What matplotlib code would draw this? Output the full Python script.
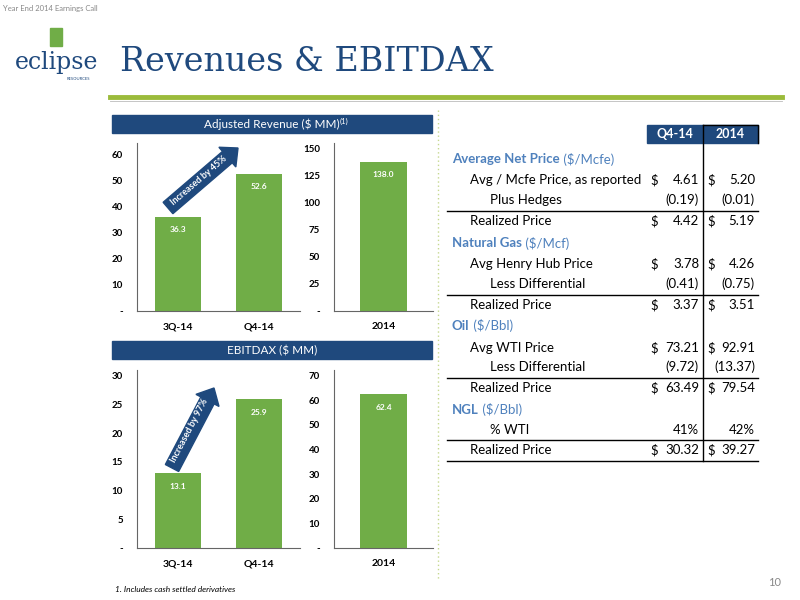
import math
import matplotlib
matplotlib.use("Agg")
import matplotlib.pyplot as plt
from matplotlib.patches import Rectangle, FancyArrow

plt.rcParams['font.family'] = ['Lato', 'DejaVu Sans']
plt.rcParams['text.parse_math'] = False

NAVY = "#1f497d"
GREEN = "#70ad47"
LINEGREEN = "#9bbb3b"
BLUE_TXT = "#4f81bd"

# chart data
rev_q_labels = ["3Q-14", "Q4-14"]
rev_q_values = [36.3, 52.6]
rev_y_label = ["2014"]
rev_y_values = [138.0]
ebx_q_labels = ["3Q-14", "Q4-14"]
ebx_q_values = [13.1, 25.9]
ebx_y_label = ["2014"]
ebx_y_values = [62.4]

# table data
tbl_labels = ["Average Net Price", "Avg / Mcfe Price, as reported", "Plus Hedges", "Realized Price",
              "Natural Gas", "Avg Henry Hub Price", "Less Differential", "Realized Price",
              "Oil", "Avg WTI Price", "Less Differential", "Realized Price",
              "NGL", "% WTI", "Realized Price"]
tbl_units = ["($/Mcfe)", "", "", "", "($/Mcf)", "", "", "", "($/Bbl)", "", "", "", "($/Bbl)", "", ""]
tbl_kind = ["h", "r", "s", "t", "h", "r", "s", "t", "h", "r", "s", "t", "h", "s", "t"]
tbl_q4 = ["", "4.61", "(0.19)", "4.42", "", "3.78", "(0.41)", "3.37", "", "73.21", "(9.72)", "63.49", "", "41%", "30.32"]
tbl_y = ["", "5.20", "(0.01)", "5.19", "", "4.26", "(0.75)", "3.51", "", "92.91", "(13.37)", "79.54", "", "42%", "39.27"]
tbl_ypos = [159, 180, 200, 221, 243, 264, 284, 305, 326, 348, 367, 388, 410, 430, 450]

W, H = 800, 600
fig = plt.figure(figsize=(8, 6), dpi=100)
bg = fig.add_axes([0, 0, 1, 1])
bg.set_xlim(0, W)
bg.set_ylim(H, 0)
bg.axis("off")


def px_axes(x0, y0, x1, y1):
    return fig.add_axes([x0 / W, 1 - y1 / H, (x1 - x0) / W, (y1 - y0) / H])


# header
bg.text(3, 8, "Year End 2014 Earnings Call", fontsize=5.5, color="#888888", va="center")
bg.add_patch(Rectangle((50, 28), 12, 18, color=GREEN))
bg.text(57, 62, "eclipse", fontsize=17, family="DejaVu Serif", color=NAVY, ha="center", va="center")
bg.text(78, 79, "RESOURCES", fontsize=3, color=NAVY, ha="center", va="center")
bg.text(120, 62, "Revenues & EBITDAX", fontsize=24, family="DejaVu Serif", color=NAVY, va="center")
bg.plot([110, 782], [97, 97], color=LINEGREEN, lw=3.5)
bg.plot([110, 782], [101, 101], color="#bbbbbb", lw=0.6)
bg.plot([438, 438], [110, 580], color="#c6d88f", lw=1, ls=(0, (1, 2)))

# panel title bars
for y0, txt, sup in [(115, "Adjusted Revenue ($ MM)", "(1)"), (341, "EBITDAX ($ MM)", "")]:
    bg.add_patch(Rectangle((112, y0), 320, 18, color=NAVY))
    t = bg.text(272, y0 + 9.5, txt, color="white", fontsize=8.5, ha="center", va="center")
    if sup:
        bg.annotate(sup, xycoords=t, xy=(1, 0.8), va="center", color="white", fontsize=5.5)


def bar_axes(ax, labels, values, ymax, ticks, fmt="{:.1f}"):
    ax.bar(labels, values, width=0.56, color=GREEN)
    ax.set_ylim(0, ymax)
    ax.set_yticks(ticks)
    ax.set_yticklabels(["-"] + [str(t) for t in ticks[1:]], fontsize=7, fontweight="bold")
    ax.tick_params(axis="x", labelsize=7.5, length=0, pad=8)
    for lab in ax.get_xticklabels():
        lab.set_fontweight("bold")
    ax.tick_params(axis="y", length=0, pad=10)
    for s in ["top", "right"]:
        ax.spines[s].set_visible(False)
    ax.spines["left"].set_color("#666666")
    ax.spines["bottom"].set_color("#666666")
    ax.patch.set_alpha(0)
    for i, v in enumerate(values):
        ax.text(i, v - ymax * 0.075, fmt.format(v), color="white", fontsize=6,
                fontweight="bold", ha="center", va="center")


a1 = px_axes(137, 143, 300, 311)
bar_axes(a1, rev_q_labels, rev_q_values, 64.6, [0, 10, 20, 30, 40, 50, 60])
a1.set_xlim(-0.5, 1.5)
a2 = px_axes(334, 143, 433, 311)
bar_axes(a2, rev_y_label, rev_y_values, 155.5, [0, 25, 50, 75, 100, 125, 150])
a2.set_xlim(-0.6, 0.6)
a3 = px_axes(137, 370, 300, 548)
bar_axes(a3, ebx_q_labels, ebx_q_values, 31, [0, 5, 10, 15, 20, 25, 30])
a3.set_xlim(-0.5, 1.5)
a4 = px_axes(334, 370, 433, 548)
bar_axes(a4, ebx_y_label, ebx_y_values, 72.3, [0, 10, 20, 30, 40, 50, 60, 70])
a4.set_xlim(-0.6, 0.6)

# growth arrows
for (x0, y0, x1, y1, txt) in [(168, 208, 238, 148, "Increased by 45%"), (172, 468, 214, 388, "Increased by 97%")]:
    bg.add_patch(FancyArrow(x0, y0, x1 - x0, y1 - y0, width=15, head_width=26, head_length=14,
                            length_includes_head=True, color=NAVY))
    ang = math.degrees(math.atan2(y0 - y1, x1 - x0))
    bg.text((x0 + x1) / 2 - 4, (y0 + y1) / 2 + 3, txt, rotation=ang, color="white", fontsize=6.5,
            fontweight="bold", ha="center", va="center", rotation_mode="anchor")

# table
bg.add_patch(Rectangle((647, 125), 111, 18, color=NAVY))
bg.text(675, 134, "Q4-14", color="white", fontsize=9, fontweight="bold", ha="center", va="center")
bg.text(730, 134, "2014", color="white", fontsize=9, fontweight="bold", ha="center", va="center")
bg.plot([703, 703], [125, 461], color="black", lw=1)
bg.plot([703, 758, 758], [125, 125, 143], color="black", lw=1)
fs = 9.5
for i, lab in enumerate(tbl_labels):
    y = tbl_ypos[i]
    k = tbl_kind[i]
    if k == "h":
        t = bg.text(452, y, lab, color=BLUE_TXT, fontsize=fs, fontweight="bold", va="center")
        bg.annotate(" " + tbl_units[i], xycoords=t, xy=(1, 0.5), va="center", color=BLUE_TXT, fontsize=fs)
        continue
    if k == "t":
        bg.plot([447, 758], [y - 10, y - 10], color="black", lw=1)
    xl = 490 if k == "s" else 470
    bg.text(xl, y, lab, fontsize=fs, va="center")
    for val, xs, xr in [(tbl_q4[i], 650, 699), (tbl_y[i], 707, 755)]:
        if k != "s":
            bg.text(xs, y, "$", fontsize=fs, va="center")
        bg.text(xr, y, val, fontsize=fs, va="center", ha="right")
bg.plot([447, 758], [461, 461], color="black", lw=1)

bg.text(115, 589, "1. Includes cash settled derivatives", fontsize=6, style="italic", va="center")
bg.text(781, 583, "10", fontsize=8, color="#888888", ha="right", va="center")

fig.savefig("out.png", dpi=100)
